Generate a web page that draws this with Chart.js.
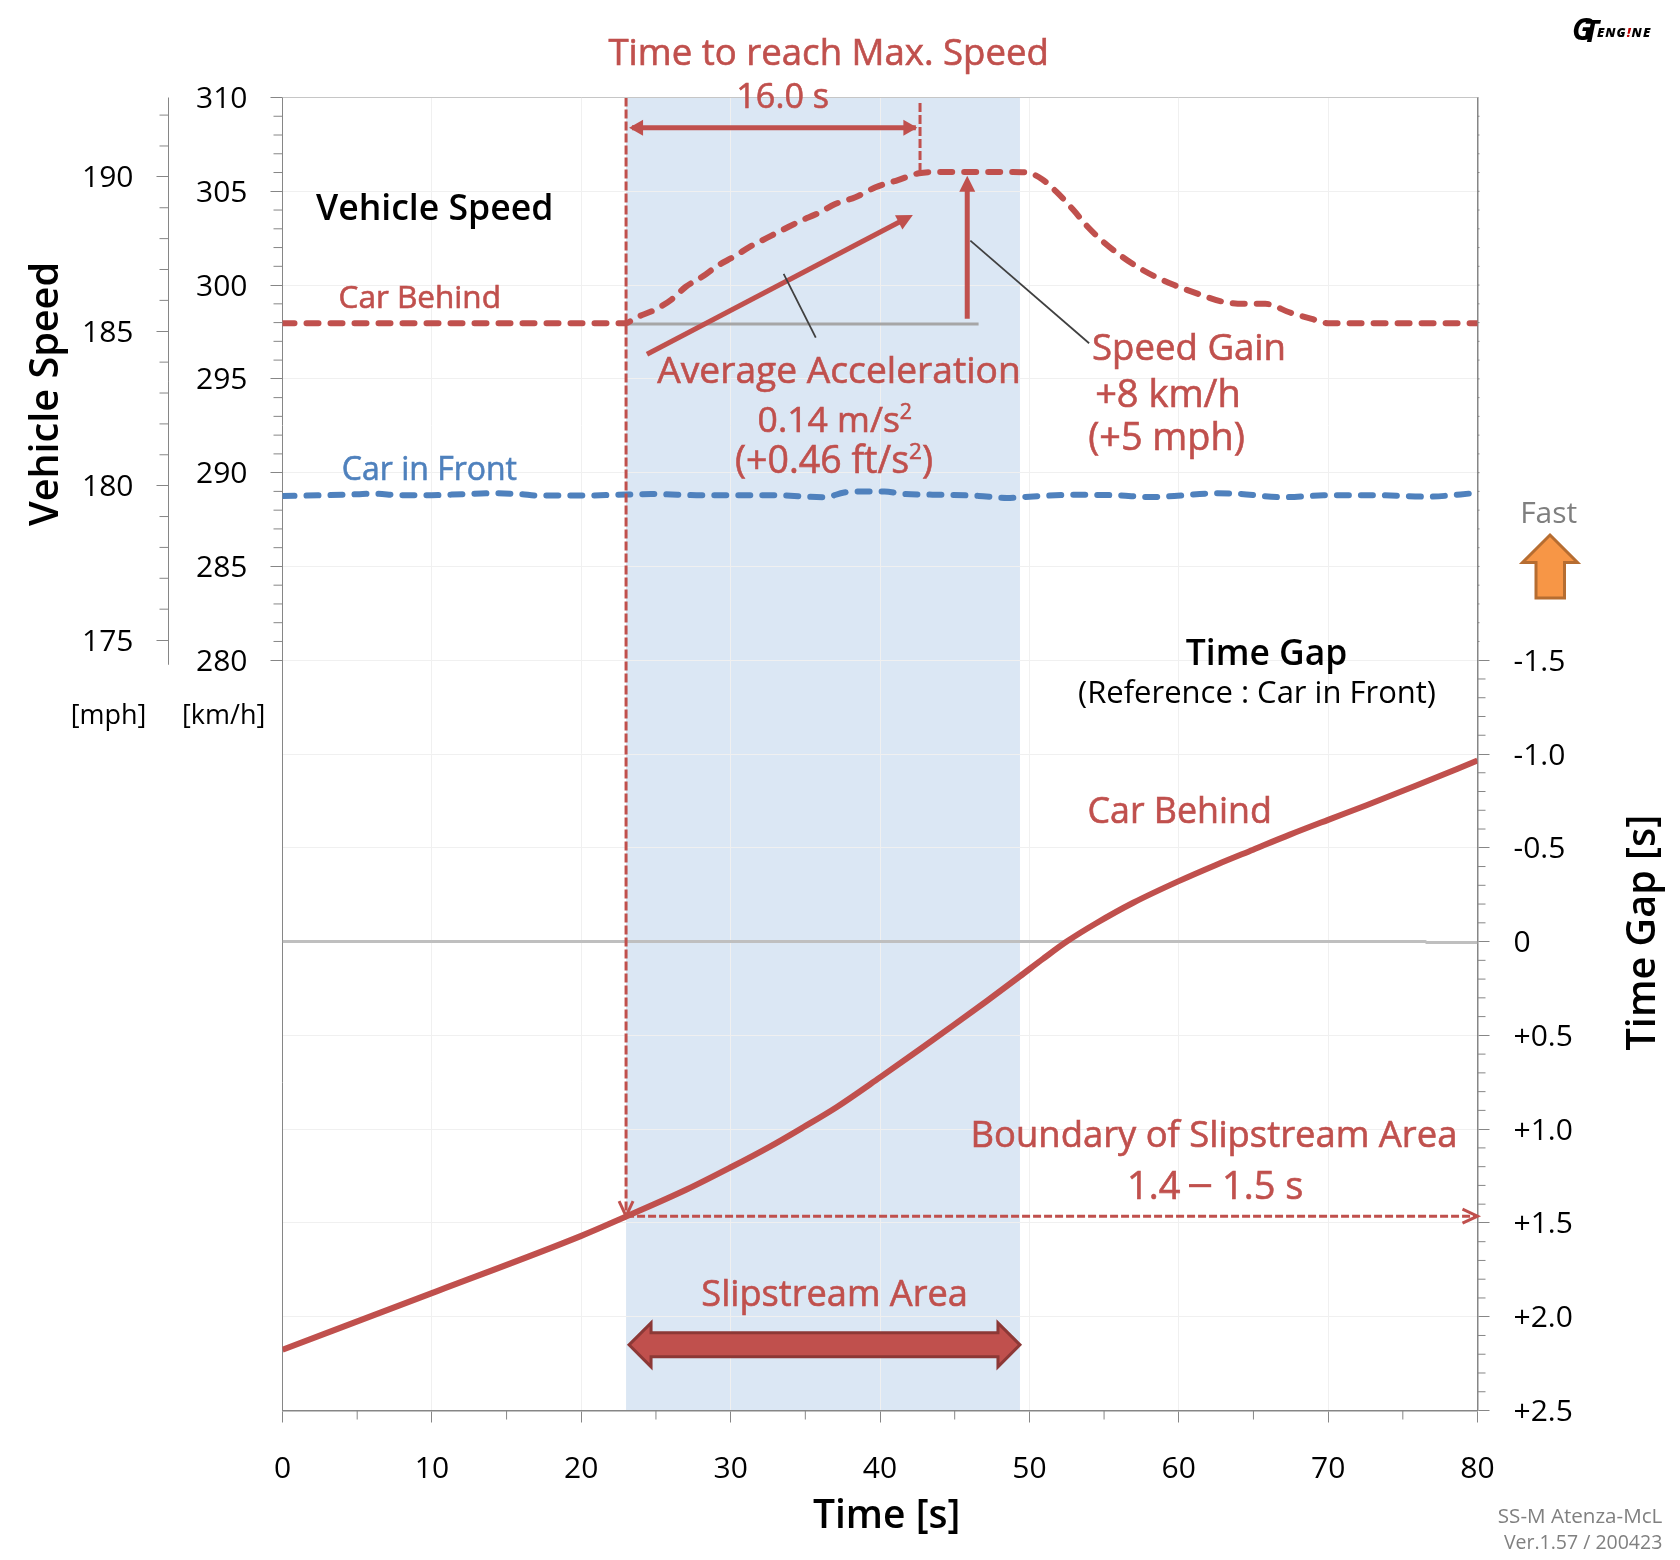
<!DOCTYPE html>
<html>
<head>
<meta charset="utf-8">
<title>Slipstream</title>
<script src="https://cdn.jsdelivr.net/npm/chart.js@4/dist/chart.umd.js"></script>
<style>
  html, body { margin: 0; padding: 0; background: #fff; }
  canvas { display: block; }
</style>
</head>
<body>
<canvas id="chart" width="1680" height="1560"></canvas>
<script>
// speed of the car behind, km/h
const behindTime = [0, 10, 20, 23, 23.56, 24.9, 26.06, 27, 28.17, 29.1, 30.3, 31.3, 32.4, 33.55, 34.7, 35.85, 37, 38.35, 39.7, 41.2, 42.6, 44, 46, 48.9, 49.9, 50.85, 51.8, 52.95, 53.9, 55.06, 56.2, 57.4, 58.5, 59.7, 61.2, 62.9, 64.3, 65.8, 67.4, 68.9, 70, 75, 80];
const behindSpeed = [297.97, 297.97, 297.97, 297.97, 298.23, 298.67, 299.24, 299.91, 300.48, 301.02, 301.55, 302.05, 302.5, 302.97, 303.43, 303.83, 304.32, 304.68, 305.21, 305.6, 305.96, 306.03, 306.03, 306.03, 305.99, 305.64, 304.98, 304, 303.11, 302.23, 301.52, 300.89, 300.42, 300, 299.56, 299.12, 299, 299, 298.55, 298.2, 297.97, 297.97, 297.97];

// speed of the car in front, km/h
const frontTime = [0, 3, 5, 6, 8, 10, 12, 14, 16, 17, 20, 23, 24.7, 28.2, 32.8, 36.3, 37.6, 38.9, 40.3, 41.6, 44.3, 46.6, 48.5, 50, 53.1, 55.9, 58.1, 59.7, 62.6, 63.9, 67, 69.7, 73.1, 76.6, 80];
const frontSpeed = [288.75, 288.8, 288.85, 288.88, 288.8, 288.8, 288.85, 288.9, 288.85, 288.78, 288.78, 288.83, 288.86, 288.79, 288.8, 288.69, 288.94, 289, 289, 288.86, 288.82, 288.76, 288.65, 288.72, 288.82, 288.79, 288.7, 288.76, 288.9, 288.88, 288.69, 288.79, 288.8, 288.72, 288.92];

// time gap of the car behind, s
const gapTime = [0, 10, 20, 23, 27.05, 29.95, 32.63, 34.86, 37.09, 40, 42.67, 44.9, 47.13, 49.37, 50.93, 52.5, 54.5, 56.95, 59.96, 62.53, 64.98, 67.44, 70, 72.57, 75.9, 80];
const gapBehind = [2.176, 1.874, 1.569, 1.466, 1.322, 1.206, 1.093, 0.99, 0.883, 0.724, 0.574, 0.447, 0.318, 0.185, 0.091, 0, -0.099, -0.207, -0.321, -0.41, -0.49, -0.57, -0.649, -0.727, -0.832, -0.965];

// grey reference lines
const zeroTime = [0, 76.5, 76.6, 80];
const zeroGap = [0, 0, 0.005, 0.005];
const baseTime = [23, 46.6];
const baseSpeed = [297.92, 297.92];

// axes
const timeTicks = [0, 10, 20, 30, 40, 50, 60, 70, 80];
const timeMinor = [5, 15, 25, 35, 45, 55, 65, 75];
const kmhTicks = [280, 285, 290, 295, 300, 305, 310];
const mphTicks = [175, 180, 185, 190];
const gapTicks = [-1.5, -1, -0.5, 0, 0.5, 1, 1.5, 2, 2.5];
const gapLabels = ['-1.5', '-1.0', '-0.5', '0', '+0.5', '+1.0', '+1.5', '+2.0', '+2.5'];

// annotation values, in axis units
const slipstreamArea = [23, 49.37];
const boundaryTime = 23;
const boundaryGap = 1.464;
const maxSpeedTime = 42.68;
const accelFrom = [24.4, 296.31];
const accelTo = [42.2, 303.74];
const gainTime = 45.84;
const gainSpeed = [298.2, 305.83];

const RED = '#c0504d';
const BLUE = '#4f81bd';
const AXIS = '#868686';
const FONT = '"Open Sans"';

function range(from, to, step) {
  var out = [];
  for (var i = 0; from + i * step <= to + 1e-6; i++) {
    out.push(Math.round((from + i * step) * 100) / 100);
  }
  return out;
}

function pairs(xs, ys) {
  return xs.map((x, i) => ({ x: x, y: ys[i] }));
}

function line(ctx, x1, y1, x2, y2, width, color, dash) {
  ctx.save();
  ctx.beginPath();
  ctx.setLineDash(dash || []);
  ctx.lineWidth = width;
  ctx.strokeStyle = color;
  ctx.moveTo(x1, y1);
  ctx.lineTo(x2, y2);
  ctx.stroke();
  ctx.restore();
}

function head(ctx, x, y, angle, len, half, color) {
  ctx.save();
  ctx.translate(x, y);
  ctx.rotate(angle);
  ctx.beginPath();
  ctx.moveTo(0, 0);
  ctx.lineTo(-len, -half);
  ctx.lineTo(-len, half);
  ctx.closePath();
  ctx.fillStyle = color;
  ctx.fill();
  ctx.restore();
}

function openHead(ctx, x, y, angle, len, half, color) {
  ctx.save();
  ctx.translate(x, y);
  ctx.rotate(angle);
  ctx.beginPath();
  ctx.moveTo(-len, -half);
  ctx.lineTo(0, 0);
  ctx.lineTo(-len, half);
  ctx.lineWidth = 3;
  ctx.strokeStyle = color;
  ctx.stroke();
  ctx.restore();
}

function text(ctx, str, x, y, size, weight, color, align) {
  ctx.font = weight + ' ' + size + 'px ' + FONT;
  ctx.fillStyle = color;
  ctx.textAlign = align || 'left';
  ctx.textBaseline = 'alphabetic';
  ctx.fillText(str, x, y);
}

// the coloured notes sit between regular and semibold, no such weight is installed
function note(ctx, str, x, y, size, color, align) {
  text(ctx, str, x, y, size, 400, color, align);
  ctx.lineWidth = 0.6;
  ctx.strokeStyle = color;
  ctx.strokeText(str, x, y);
}

// text with a small raised 2, parts = [before, after]
function noteSquared(ctx, parts, cx, y, size, color) {
  ctx.font = '400 ' + size + 'px ' + FONT;
  var w1 = ctx.measureText(parts[0]).width;
  var w3 = ctx.measureText(parts[1]).width;
  ctx.font = '400 ' + (size * 0.6) + 'px ' + FONT;
  var w2 = ctx.measureText('2').width;
  var x = cx - (w1 + w2 + w3) / 2;
  note(ctx, '2', x + w1, y - size * 0.38, size * 0.6, color);
  note(ctx, parts[0], x, y, size, color);
  note(ctx, parts[1], x + w1 + w2, y, size, color);
}

function rotated(ctx, str, x, y, size, weight, color) {
  ctx.save();
  ctx.translate(x, y);
  ctx.rotate(-Math.PI / 2);
  text(ctx, str, 0, 0, size, weight, color, 'center');
  ctx.restore();
}

const bandPlugin = {
  id: 'band',
  beforeDraw(chart) {
    var ctx = chart.ctx, a = chart.chartArea, x = chart.scales.x;
    ctx.fillStyle = '#dbe7f4';
    var x1 = x.getPixelForValue(slipstreamArea[0]);
    var x2 = x.getPixelForValue(slipstreamArea[1]);
    ctx.fillRect(x1, a.top, x2 - x1, a.bottom - a.top);
  }
};

const axisPlugin = {
  id: 'axisMarks',
  afterDraw(chart) {
    var ctx = chart.ctx, a = chart.chartArea, s = chart.scales;
    // minor tick marks come from the scales, the library only does one length
    range(281, 309, 1).filter(v => v % 5).forEach(v => {
      var y = s.kmh.getPixelForValue(v);
      line(ctx, a.left - 9, y, a.left, y, 1, AXIS);
    });
    var mx = s.mph.right;
    line(ctx, mx, s.mph.getPixelForValue(192.57), mx, s.mph.getPixelForValue(174.2), 1, AXIS);
    range(175, 192, 1).filter(v => v % 5).forEach(v => {
      var y = s.mph.getPixelForValue(v);
      line(ctx, mx - 9, y, mx, y, 1, AXIS);
    });
    range(-1.4, 2.4, 0.1).filter(v => Math.abs(v * 2 - Math.round(v * 2)) > 0.01).forEach(v => {
      var y = s.gap.getPixelForValue(v);
      line(ctx, a.right, y, a.right + 8, y, 1, AXIS);
    });
    range(-4.4, -1.6, 0.1).forEach(v => {
      var y = s.gap.getPixelForValue(v);
      line(ctx, a.right, y, a.right + 2, y, 1, AXIS);
    });
    timeMinor.forEach(v => {
      var x = s.x.getPixelForValue(v);
      line(ctx, x, a.bottom, x, a.bottom + 9, 1, AXIS);
    });
    line(ctx, a.left, a.top, a.right, a.top, 1, '#c6c6c6');
  }
};

const notesPlugin = {
  id: 'notes',
  afterDatasetsDraw(chart) {
    var ctx = chart.ctx, s = chart.scales;
    var tx = v => s.x.getPixelForValue(v);
    var ky = v => s.kmh.getPixelForValue(v);
    var gy = v => s.gap.getPixelForValue(v);

    // time to reach max speed
    var bx = tx(boundaryTime), by = gy(boundaryGap);
    line(ctx, bx, chart.chartArea.top, bx, by - 2, 3, RED, [9, 3]);
    openHead(ctx, bx, by, Math.PI / 2, 15, 7, RED);
    line(ctx, bx, by, tx(80) - 2, by, 3, RED, [8, 3]);
    openHead(ctx, tx(80), by, 0, 15, 7, RED);

    var mx = tx(maxSpeedTime);
    line(ctx, mx, ky(309.71), mx, ky(306.1), 3, RED, [9, 3]);
    var ay = ky(308.39);
    line(ctx, tx(23.4), ay, tx(42.4), ay, 5, RED);
    head(ctx, tx(23.2), ay, Math.PI, 14, 8, RED);
    head(ctx, tx(42.5), ay, 0, 14, 8, RED);

    // acceleration and speed gain arrows
    var x1 = tx(accelFrom[0]), y1 = ky(accelFrom[1]), x2 = tx(accelTo[0]), y2 = ky(accelTo[1]);
    var ang = Math.atan2(y2 - y1, x2 - x1);
    line(ctx, x1, y1, x2 - 12 * Math.cos(ang), y2 - 12 * Math.sin(ang), 5, RED);
    head(ctx, x2, y2, ang, 16, 8, RED);
    var gx = tx(gainTime);
    line(ctx, gx, ky(gainSpeed[0]), gx, ky(gainSpeed[1]) + 12, 5, RED);
    head(ctx, gx, ky(gainSpeed[1]), -Math.PI / 2, 16, 8, RED);

    // leader lines
    line(ctx, tx(33.55), ky(300.6), tx(35.7), ky(297.2), 1.8, '#404040');
    line(ctx, tx(46.05), ky(302.37), tx(54.0), ky(296.9), 1.8, '#404040');

    // slipstream double arrow
    var l = tx(slipstreamArea[0] + 0.2), r = tx(slipstreamArea[1]), m = gy(2.15);
    var lb = l + 22, rb = r - 22;
    ctx.beginPath();
    ctx.moveTo(l, m);
    ctx.lineTo(lb, m - 22);
    ctx.lineTo(lb, m - 12);
    ctx.lineTo(rb, m - 12);
    ctx.lineTo(rb, m - 22);
    ctx.lineTo(r, m);
    ctx.lineTo(rb, m + 22);
    ctx.lineTo(rb, m + 12);
    ctx.lineTo(lb, m + 12);
    ctx.lineTo(lb, m + 22);
    ctx.closePath();
    ctx.fillStyle = RED;
    ctx.fill();
    ctx.lineWidth = 3;
    ctx.lineJoin = 'miter';
    ctx.strokeStyle = '#8c3836';
    ctx.stroke();
  },
  afterDraw(chart) {
    var ctx = chart.ctx;

    note(ctx, 'Time to reach Max. Speed', 828.7, 65, 36.6, RED, 'center');
    note(ctx, '16.0 s', 782.7, 108, 34.2, RED, 'center');
    note(ctx, 'Car Behind', 338.6, 308, 31.5, RED);
    note(ctx, 'Car in Front', 341.8, 480, 32, BLUE);
    note(ctx, 'Average Acceleration', 839, 383, 37.2, RED, 'center');
    noteSquared(ctx, ['0.14 m/s', ''], 834.8, 432, 35.5, RED);
    noteSquared(ctx, ['(+0.46 ft/s', ')'], 834, 473, 37.5, RED);
    note(ctx, 'Speed Gain', 1092, 360, 36.6, RED);
    note(ctx, '+8 km/h', 1168, 407, 38, RED, 'center');
    note(ctx, '(+5 mph)', 1166.5, 450, 37.8, RED, 'center');
    note(ctx, 'Car Behind', 1087.5, 823, 35.8, RED);
    note(ctx, 'Boundary of Slipstream Area', 1214, 1147, 36.4, RED, 'center');
    note(ctx, '1.4', 1127, 1199, 38, RED);
    text(ctx, '－', 1200, 1200, 50, 400, RED, 'center');
    note(ctx, '1.5 s', 1222, 1199, 38, RED);
    note(ctx, 'Slipstream Area', 834.6, 1306, 36.2, RED, 'center');

    text(ctx, 'Vehicle Speed', 316, 220, 35.6, 600, '#000');
    text(ctx, 'Time Gap', 1266.5, 665, 35.4, 600, '#000', 'center');
    text(ctx, '(Reference : Car in Front)', 1257, 703, 31, 400, '#000', 'center');
    text(ctx, 'Fast', 1548.7, 523, 30, 400, '#7f7f7f', 'center');
    text(ctx, '[mph]', 70.7, 724, 27, 400, '#000');
    text(ctx, '[km/h]', 182, 724, 27, 400, '#000');
    text(ctx, 'SS-M Atenza-McL', 1662.3, 1523, 20.6, 400, '#808080', 'right');
    text(ctx, 'Ver.1.57 / 200423', 1662.3, 1549, 19.5, 400, '#808080', 'right');
    text(ctx, 'Time [s]', 886.6, 1528, 39, 600, '#000', 'center');
    rotated(ctx, 'Vehicle Speed', 58, 394, 39.6, 600, '#000');
    rotated(ctx, 'Time Gap [s]', 1655, 932.6, 39.5, 600, '#000');

    // fast arrow
    ctx.beginPath();
    ctx.moveTo(1550, 535);
    ctx.lineTo(1577.5, 562.5);
    ctx.lineTo(1564.5, 562.5);
    ctx.lineTo(1564.5, 598);
    ctx.lineTo(1536, 598);
    ctx.lineTo(1536, 562.5);
    ctx.lineTo(1522.5, 562.5);
    ctx.closePath();
    ctx.fillStyle = '#f79646';
    ctx.fill();
    ctx.lineWidth = 3;
    ctx.strokeStyle = '#b66d31';
    ctx.stroke();

    // logo
    ctx.font = 'italic 700 30px ' + FONT;
    ctx.fillStyle = '#000';
    ctx.textAlign = 'left';
    ctx.fillText('G', 1572, 40);
    ctx.fillText('T', 1583, 42);
    ctx.font = 'italic 800 13px ' + FONT;
    var lx = 1597;
    'ENG!NE'.split('').forEach((c) => {
      ctx.fillStyle = c === '!' ? '#c00000' : '#000';
      ctx.fillText(c, lx, 37);
      lx += ctx.measureText(c).width + 1;
    });
  }
};

function pinWidth(w) {
  return function (scale) { scale.width = w; };
}

new Chart(document.getElementById('chart').getContext('2d'), {
  type: 'line',
  plugins: [bandPlugin, axisPlugin, notesPlugin],
  data: {
    datasets: [
      { label: 'Time Gap', xAxisID: 'x', yAxisID: 'gap', data: pairs(gapTime, gapBehind), borderColor: RED, borderWidth: 6, cubicInterpolationMode: 'monotone', pointRadius: 0 },
      { label: 'Car Behind', xAxisID: 'x', yAxisID: 'kmh', data: pairs(behindTime, behindSpeed), borderColor: RED, borderWidth: 6, borderDash: [12, 12], borderCapStyle: 'round', cubicInterpolationMode: 'monotone', pointRadius: 0 },
      { label: 'Car in Front', xAxisID: 'x', yAxisID: 'kmh', data: pairs(frontTime, frontSpeed), borderColor: BLUE, borderWidth: 6, borderDash: [12, 12], borderCapStyle: 'round', cubicInterpolationMode: 'monotone', pointRadius: 0 },
      { label: 'Zero', xAxisID: 'x', yAxisID: 'gap', data: pairs(zeroTime, zeroGap), borderColor: '#bfbfbf', borderWidth: 3, pointRadius: 0 },
      { label: 'Base', xAxisID: 'x', yAxisID: 'kmh', data: pairs(baseTime, baseSpeed), borderColor: '#a6a6a6', borderWidth: 3, pointRadius: 0 }
    ]
  },
  options: {
    responsive: false,
    animation: false,
    layout: { padding: { top: 97.5, left: 0, right: 0, bottom: 0 } },
    plugins: { legend: { display: false }, tooltip: { enabled: false } },
    scales: {
      x: {
        type: 'linear',
        position: 'bottom',
        min: 0,
        max: 80,
        afterBuildTicks(scale) { scale.ticks = timeTicks.map(v => ({ value: v })); },
        afterFit(scale) { scale.height = 149.5; },
        border: { color: AXIS, width: 1.5 },
        grid: { color: '#f0f0f0', lineWidth: 1, tickColor: AXIS, tickLength: 12 },
        ticks: { color: '#000', font: { family: FONT, size: 30 }, padding: 29, autoSkip: false, maxRotation: 0 }
      },
      mph: {
        type: 'linear',
        position: 'left',
        weight: 1,
        min: 150.05,
        max: 192.57,
        afterBuildTicks(scale) { scale.ticks = mphTicks.map(v => ({ value: v })); },
        afterFit: pinWidth(168.5),
        border: { display: false },
        grid: { drawOnChartArea: false, tickColor: AXIS, tickLength: 12 },
        ticks: { color: '#000', font: { family: FONT, size: 30 }, padding: 23, labelOffset: 2, autoSkip: false }
      },
      kmh: {
        type: 'linear',
        position: 'left',
        weight: 0,
        min: 240,
        max: 310,
        afterBuildTicks(scale) { scale.ticks = kmhTicks.map(v => ({ value: v })); },
        afterFit: pinWidth(114),
        border: { color: AXIS, width: 1 },
        grid: { color: '#f0f0f0', tickColor: AXIS, tickLength: 12 },
        ticks: { color: '#000', font: { family: FONT, size: 30 }, padding: 23, labelOffset: 2, autoSkip: false }
      },
      gap: {
        type: 'linear',
        position: 'right',
        reverse: true,
        min: -4.5,
        max: 2.5,
        afterBuildTicks(scale) { scale.ticks = gapTicks.map(v => ({ value: v })); },
        afterFit: pinWidth(202.5),
        border: { color: AXIS, width: 1.5 },
        grid: { color: '#f0f0f0', tickColor: AXIS, tickLength: 12 },
        ticks: {
          color: '#000',
          font: { family: FONT, size: 30 },
          padding: 24,
          labelOffset: 2,
          autoSkip: false,
          callback: (v) => gapLabels[gapTicks.indexOf(v)]
        }
      }
    }
  }
});
</script>
</body>
</html>
